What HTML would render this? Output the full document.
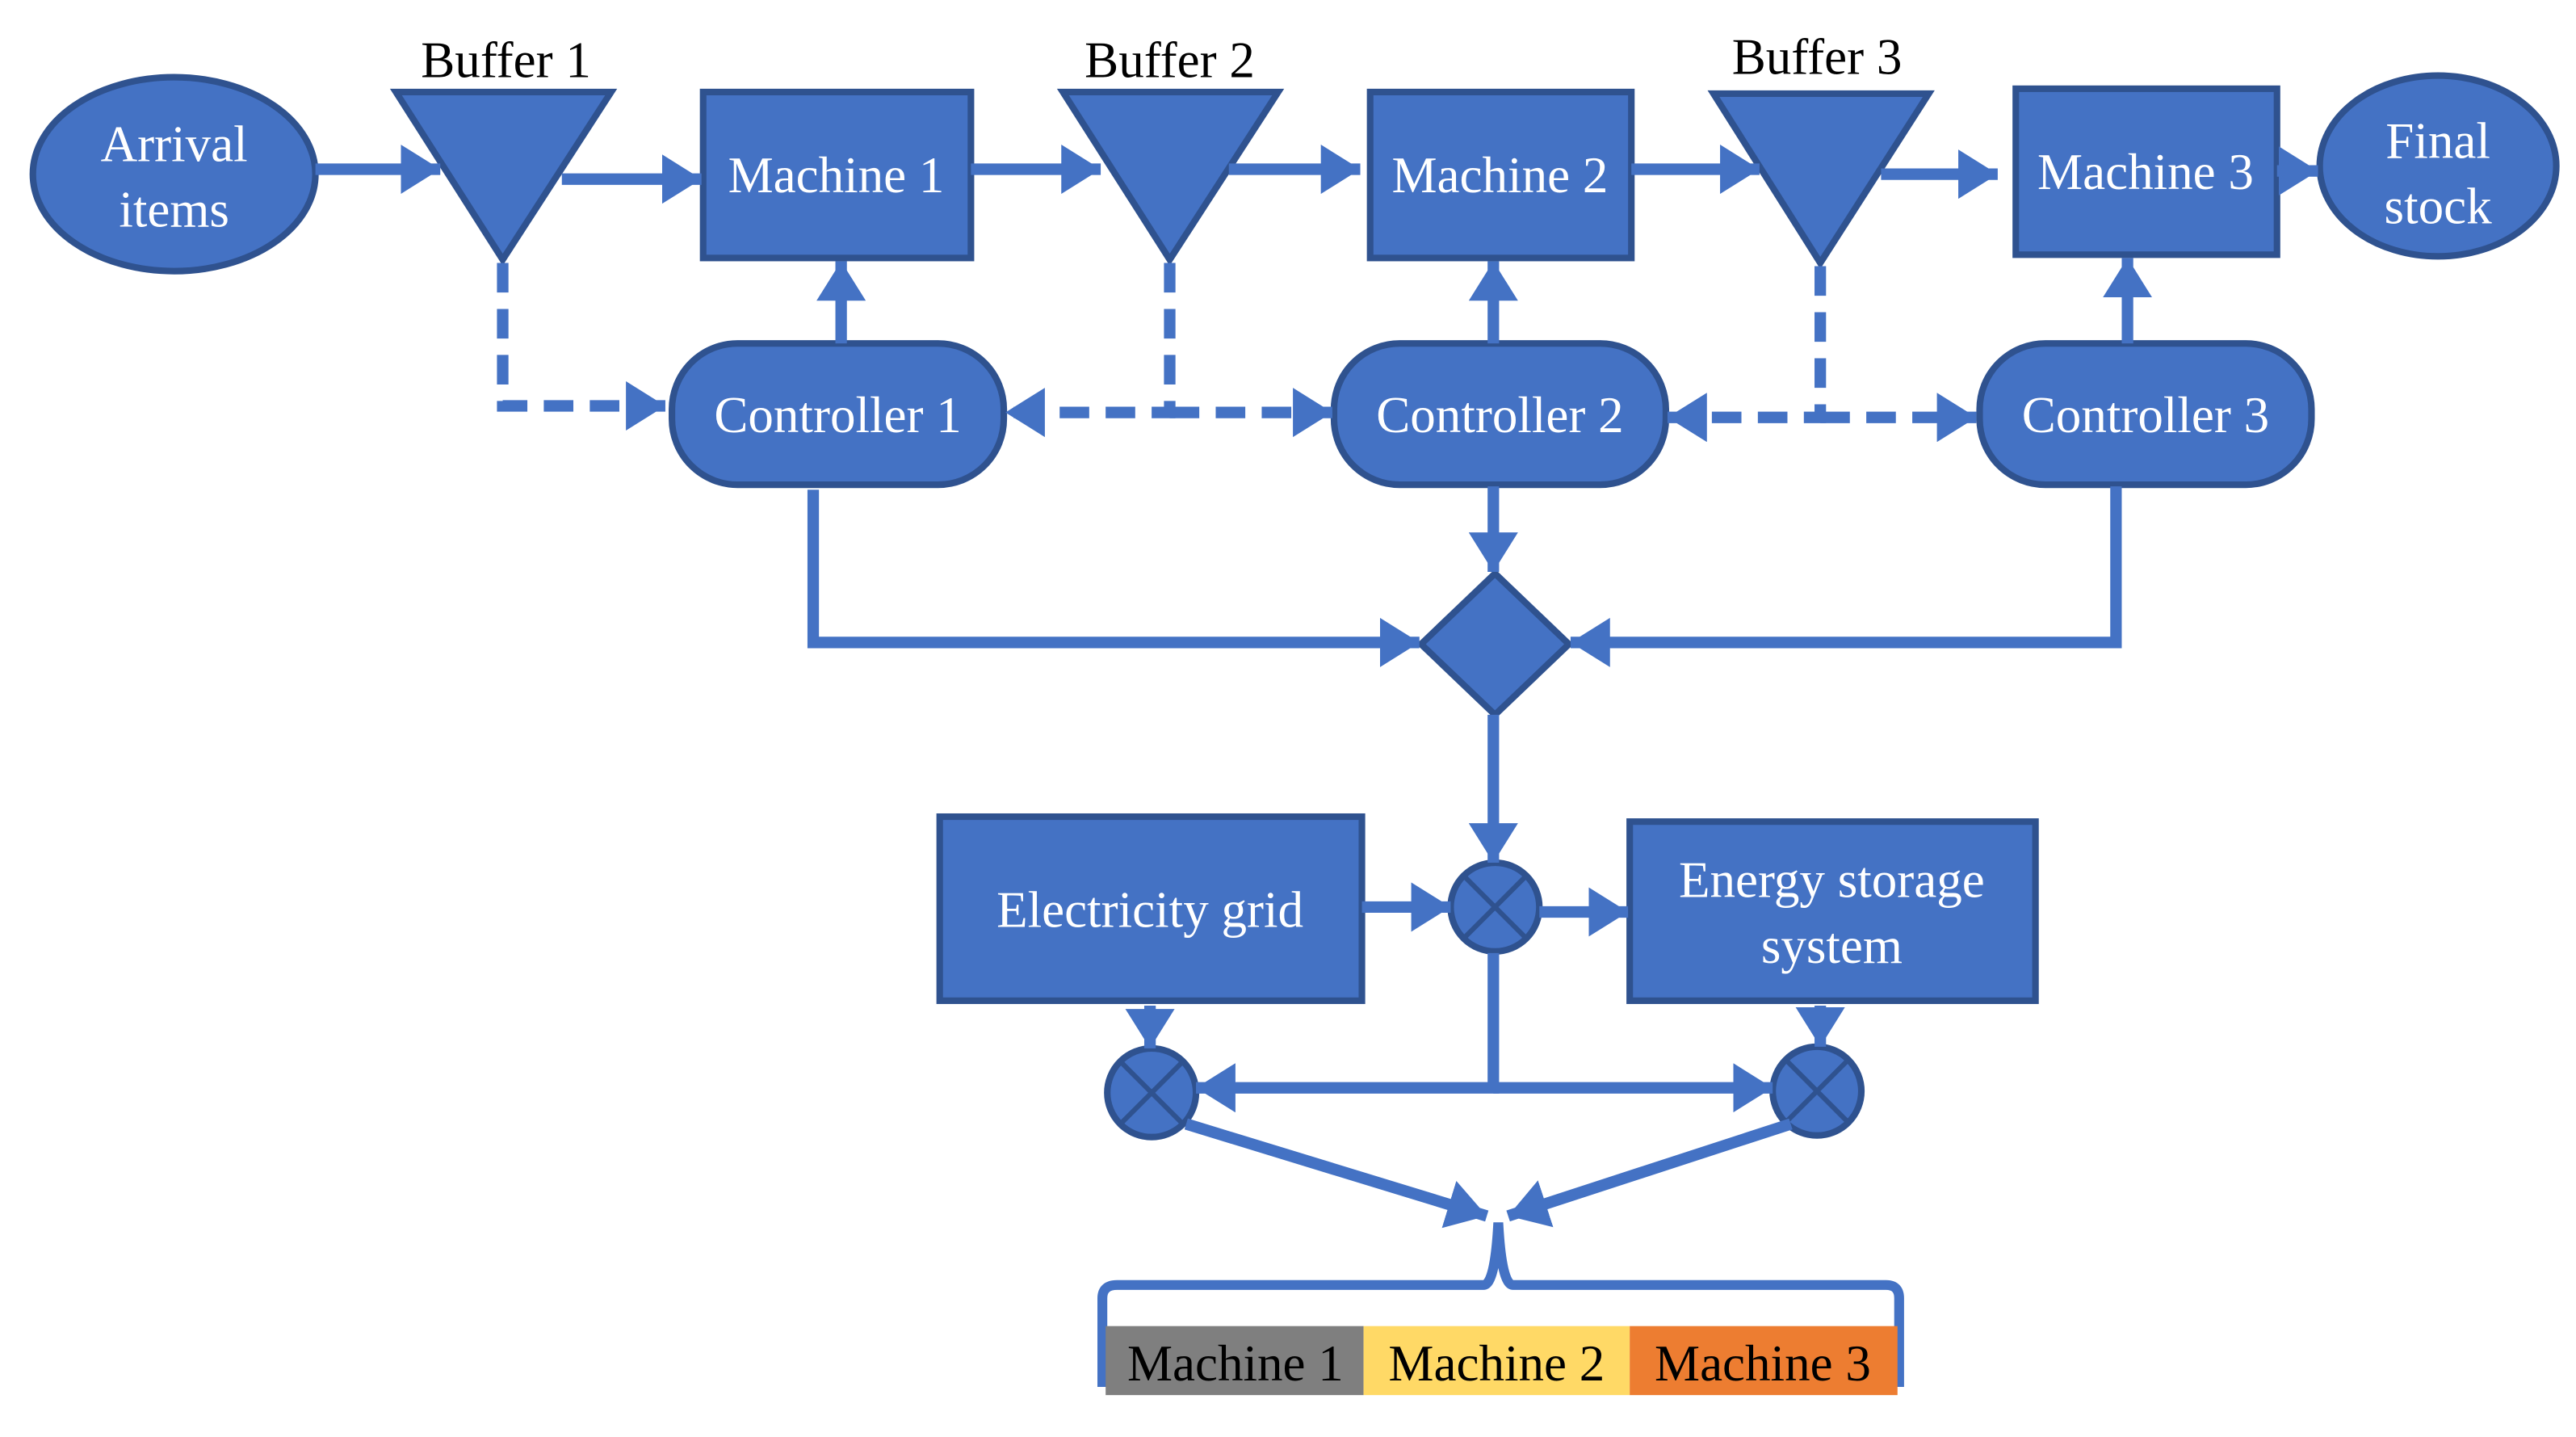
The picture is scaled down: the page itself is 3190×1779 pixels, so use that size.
<!DOCTYPE html>
<html><head><meta charset="utf-8"><style>
html,body{margin:0;padding:0;background:#fff;}
svg{display:block;}
text{font-family:"Liberation Serif",serif;}
</style></head><body>
<svg width="3190" height="1779" viewBox="0 0 1568 874.5" preserveAspectRatio="none" xmlns="http://www.w3.org/2000/svg">
<defs>
<marker id="a" markerUnits="userSpaceOnUse" markerWidth="26" markerHeight="30" refX="24" refY="15" orient="auto">
<path d="M0,0 L24,15 L0,30 Z" fill="#4472C4"/>
</marker>
</defs>
<g fill="#4472C4" stroke="#2F528F" stroke-width="4">
<ellipse cx="106" cy="106" rx="86" ry="59"/>
<polygon points="241,56 372,56 306,158"/>
<rect x="428" y="56" width="163" height="101"/>
<polygon points="647,56 778,56 712,158"/>
<rect x="834" y="56" width="159" height="101"/>
<polygon points="1043,57 1174,57 1108,160"/>
<rect x="1227" y="54" width="159" height="101"/>
<ellipse cx="1484" cy="101" rx="72" ry="55"/>
<rect x="409" y="209" width="202" height="86" rx="40"/>
<rect x="812" y="209" width="202" height="86" rx="40"/>
<rect x="1205" y="209" width="202" height="86" rx="40"/>
<polygon points="910,349 955,392 910,435 865,392"/>
<rect x="572" y="497" width="257" height="112"/>
<rect x="992" y="500" width="247" height="109"/>
<ellipse cx="910" cy="552" rx="27" ry="27"/>
<ellipse cx="701" cy="665" rx="27" ry="27"/>
<ellipse cx="1106" cy="664" rx="27" ry="27"/>
</g>
<g stroke="#2F528F" stroke-width="3">
<path d="M891,533 L929,571 M929,533 L891,571"/>
<path d="M682,646 L720,684 M720,646 L682,684"/>
<path d="M1087,645 L1125,683 M1125,645 L1087,683"/>
</g>
<g stroke="#4472C4" stroke-width="7" fill="none" marker-end="url(#a)">
<path d="M192,103 L268,103"/>
<path d="M342,109 L427,109"/>
<path d="M591,103 L670,103"/>
<path d="M748,103 L828,103"/>
<path d="M993,103 L1071,103"/>
<path d="M1145,106 L1216,106"/>
<path d="M1386,104 L1411,104"/>
<path d="M512,209 L512,159"/>
<path d="M909,209 L909,159"/>
<path d="M1295,209 L1295,157"/>
<path d="M495,298 L495,391 L864,391"/>
<path d="M1288,296 L1288,391 L956,391"/>
<path d="M909,296 L909,348"/>
<path d="M909,435 L909,525"/>
<path d="M829,552 L883,552"/>
<path d="M937,555 L991,555"/>
<path d="M700,612 L700,638"/>
<path d="M1108,612 L1108,637"/>
<path d="M909,580 L909,662 L728,662"/>
<path d="M909,662 L1079,662"/>
<path d="M722,684 L905,740"/>
<path d="M1090,684 L918,740"/>
</g>
<g stroke="#4472C4" stroke-width="7" fill="none" stroke-dasharray="18,10">
<path d="M306,160 L306,247 L405,247" marker-end="url(#a)"/>
<path d="M712,160 L712,251 L612,251" marker-end="url(#a)"/>
<path d="M712,251 L811,251" marker-end="url(#a)"/>
<path d="M1108,162 L1108,254 L1015,254" marker-end="url(#a)"/>
<path d="M1108,254 L1203,254" marker-end="url(#a)"/>
</g>
<path d="M671,844 L671,790 Q671,782 680,782 L903,782 Q910,782 912,744 Q914,782 921,782 L1148,782 Q1156,782 1156,790 L1156,844" stroke="#4472C4" stroke-width="6" fill="none"/>
<rect x="673" y="807" width="157" height="42" fill="#7F7F7F"/>
<rect x="830" y="807" width="162" height="42" fill="#FFD966"/>
<rect x="992" y="807" width="163" height="42" fill="#ED7D31"/>
<g font-size="31" text-anchor="middle" fill="#000">
<text x="308" y="47">Buffer 1</text>
<text x="712" y="47">Buffer 2</text>
<text x="1106" y="45">Buffer 3</text>
<text x="752" y="840">Machine 1</text>
<text x="911" y="840">Machine 2</text>
<text x="1073" y="840">Machine 3</text>
</g>
<g font-size="31" text-anchor="middle" fill="#fff">
<text x="106" y="98">Arrival</text>
<text x="106" y="138">items</text>
<text x="509" y="117">Machine 1</text>
<text x="913" y="117">Machine 2</text>
<text x="1306" y="115">Machine 3</text>
<text x="1484" y="96">Final</text>
<text x="1484" y="136">stock</text>
<text x="510" y="263">Controller 1</text>
<text x="913" y="263">Controller 2</text>
<text x="1306" y="263">Controller 3</text>
<text x="700" y="564">Electricity grid</text>
<text x="1115" y="546">Energy storage</text>
<text x="1115" y="586">system</text>
</g>
</svg>
</body></html>
